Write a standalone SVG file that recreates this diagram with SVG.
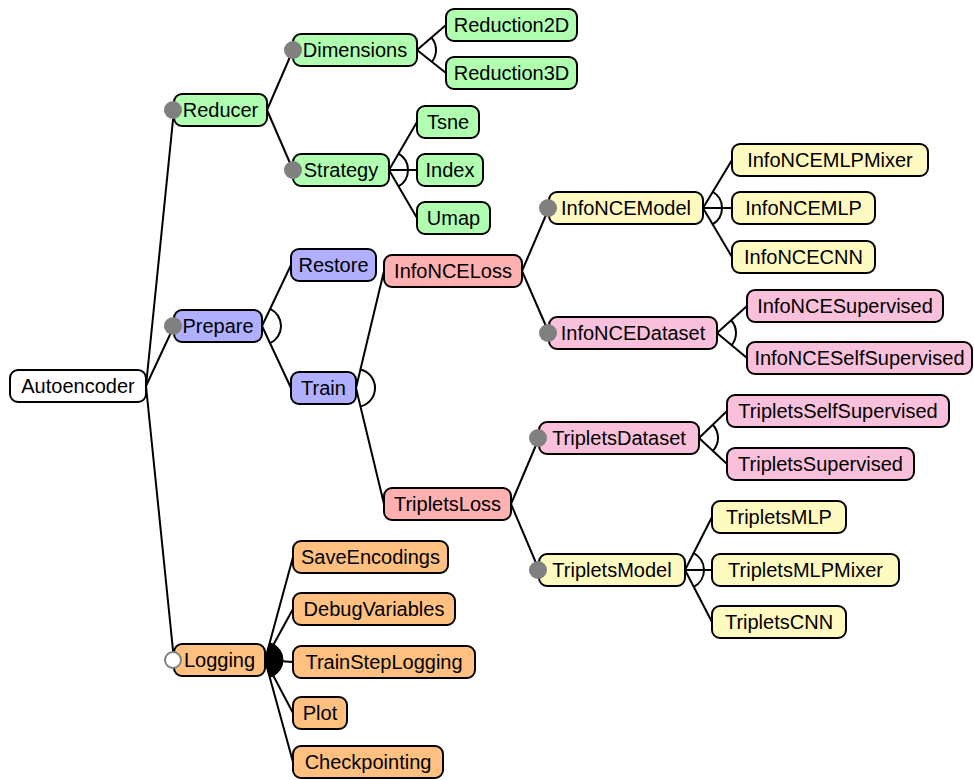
<svg xmlns="http://www.w3.org/2000/svg" width="974" height="780" viewBox="0 0 974 780">
<style>
.n rect{stroke:#000;stroke-width:2}
.n text{font-family:"Liberation Sans",Arial,sans-serif;font-size:20px;fill:#000;text-anchor:middle}
.w rect{fill:#fff}
.g rect{fill:#b0ffb0}
.b rect{fill:#b0b0ff}
.r rect{fill:#ffb0b0}
.y rect{fill:#fffac0}
.p rect{fill:#f8c0da}
.o rect{fill:#ffc080}
.m{fill:#808080}
.h{fill:#fff;stroke:#808080;stroke-width:2}
#connectors line{stroke:#000;stroke-width:2}
#connectors .arc{fill:none;stroke:#000;stroke-width:2}
#connectors .or{fill:#000;stroke:#000;stroke-width:1}
</style>
<rect width="974" height="780" fill="#fff"/>
<g id="connectors">
<line x1="146" y1="386" x2="174" y2="110"/>
<line x1="146" y1="386" x2="174" y2="326"/>
<line x1="146" y1="386" x2="174" y2="660"/>
<line x1="267" y1="110" x2="293" y2="50"/>
<line x1="267" y1="110" x2="293" y2="170"/>
<line x1="417" y1="50" x2="446" y2="25"/>
<line x1="417" y1="50" x2="446" y2="73"/>
<line x1="389" y1="170" x2="417" y2="122"/>
<line x1="389" y1="170" x2="417" y2="170"/>
<line x1="389" y1="170" x2="417" y2="218"/>
<line x1="262" y1="326" x2="291" y2="265"/>
<line x1="262" y1="326" x2="291" y2="388"/>
<line x1="356" y1="388" x2="384" y2="271"/>
<line x1="356" y1="388" x2="384" y2="504"/>
<line x1="522" y1="271" x2="549" y2="208"/>
<line x1="522" y1="271" x2="549" y2="333"/>
<line x1="703" y1="208" x2="732" y2="160"/>
<line x1="703" y1="208" x2="732" y2="208"/>
<line x1="703" y1="208" x2="732" y2="257"/>
<line x1="717" y1="333" x2="747" y2="306"/>
<line x1="717" y1="333" x2="747" y2="358"/>
<line x1="511" y1="504" x2="539" y2="438"/>
<line x1="511" y1="504" x2="539" y2="570"/>
<line x1="699" y1="438" x2="727" y2="411"/>
<line x1="699" y1="438" x2="727" y2="464"/>
<line x1="685" y1="570" x2="712" y2="517"/>
<line x1="685" y1="570" x2="712" y2="570"/>
<line x1="685" y1="570" x2="712" y2="622"/>
<line x1="265" y1="660" x2="293" y2="557"/>
<line x1="265" y1="660" x2="293" y2="609"/>
<line x1="265" y1="660" x2="293" y2="662"/>
<line x1="265" y1="660" x2="293" y2="713"/>
<line x1="265" y1="660" x2="293" y2="762"/>
<path class="arc" d="M270.16,308.83 A19,19 0 0 1 270.05,343.21"/>
<path class="arc" d="M360.42,369.52 A19,19 0 0 1 360.46,406.47"/>
<path class="arc" d="M431.39,37.59 A19,19 0 0 1 431.89,61.81"/>
<path class="arc" d="M398.57,153.59 A19,19 0 0 1 398.57,186.41"/>
<path class="arc" d="M712.83,191.74 A19,19 0 0 1 712.68,224.35"/>
<path class="arc" d="M731.12,320.29 A19,19 0 0 1 731.6,345.16"/>
<path class="arc" d="M712.68,424.81 A19,19 0 0 1 712.92,450.93"/>
<path class="arc" d="M693.62,553.07 A19,19 0 0 1 693.76,586.86"/>
<path class="or" d="M265,660 L269.72,642.63 A18,18 0 0 1 269.76,677.36 Z"/>
</g>
<g id="Autoencoder" class="n w"><rect x="10" y="370" width="136" height="32" rx="8"/><text x="78" y="393">Autoencoder</text></g>
<g id="Reducer" class="n g"><rect x="174" y="94" width="93" height="32" rx="8"/><text x="220.5" y="117">Reducer</text><circle class="m" cx="173" cy="110" r="9"/></g>
<g id="Prepare" class="n b"><rect x="174" y="310" width="88" height="32" rx="8"/><text x="218" y="333">Prepare</text><circle class="m" cx="173" cy="326" r="9"/></g>
<g id="Logging" class="n o"><rect x="174" y="644" width="91" height="32" rx="8"/><text x="219.5" y="667">Logging</text><circle class="h" cx="173" cy="660" r="8"/></g>
<g id="Dimensions" class="n g"><rect x="293" y="34" width="124" height="32" rx="8"/><text x="355" y="57">Dimensions</text><circle class="m" cx="293" cy="50" r="9"/></g>
<g id="Strategy" class="n g"><rect x="293" y="154" width="96" height="32" rx="8"/><text x="341" y="177">Strategy</text><circle class="m" cx="293" cy="170" r="9"/></g>
<g id="Reduction2D" class="n g"><rect x="446" y="9" width="131" height="32" rx="8"/><text x="511.5" y="32">Reduction2D</text></g>
<g id="Reduction3D" class="n g"><rect x="446" y="57" width="131" height="32" rx="8"/><text x="511.5" y="80">Reduction3D</text></g>
<g id="Tsne" class="n g"><rect x="417" y="106" width="62" height="32" rx="8"/><text x="448" y="129">Tsne</text></g>
<g id="Index" class="n g"><rect x="417" y="154" width="66" height="32" rx="8"/><text x="450" y="177">Index</text></g>
<g id="Umap" class="n g"><rect x="417" y="202" width="73" height="32" rx="8"/><text x="453.5" y="225">Umap</text></g>
<g id="Restore" class="n b"><rect x="291" y="249" width="85" height="32" rx="8"/><text x="333.5" y="272">Restore</text></g>
<g id="Train" class="n b"><rect x="291" y="372" width="65" height="32" rx="8"/><text x="323.5" y="395">Train</text></g>
<g id="InfoNCELoss" class="n r"><rect x="384" y="255" width="138" height="32" rx="8"/><text x="453" y="278">InfoNCELoss</text></g>
<g id="TripletsLoss" class="n r"><rect x="384" y="488" width="127" height="32" rx="8"/><text x="447.5" y="511">TripletsLoss</text></g>
<g id="InfoNCEModel" class="n y"><rect x="549" y="192" width="154" height="32" rx="8"/><text x="626" y="215">InfoNCEModel</text><circle class="m" cx="548" cy="208" r="9"/></g>
<g id="InfoNCEDataset" class="n p"><rect x="549" y="317" width="168" height="32" rx="8"/><text x="633" y="340">InfoNCEDataset</text><circle class="m" cx="548" cy="333" r="9"/></g>
<g id="InfoNCEMLPMixer" class="n y"><rect x="732" y="144" width="196" height="32" rx="8"/><text x="830" y="167">InfoNCEMLPMixer</text></g>
<g id="InfoNCEMLP" class="n y"><rect x="732" y="192" width="143" height="32" rx="8"/><text x="803.5" y="215">InfoNCEMLP</text></g>
<g id="InfoNCECNN" class="n y"><rect x="732" y="241" width="143" height="32" rx="8"/><text x="803.5" y="264">InfoNCECNN</text></g>
<g id="InfoNCESupervised" class="n p"><rect x="747" y="290" width="196" height="32" rx="8"/><text x="845" y="313">InfoNCESupervised</text></g>
<g id="InfoNCESelfSupervised" class="n p"><rect x="747" y="342" width="225" height="32" rx="8"/><text x="859.5" y="365">InfoNCESelfSupervised</text></g>
<g id="TripletsDataset" class="n p"><rect x="539" y="422" width="160" height="32" rx="8"/><text x="619" y="445">TripletsDataset</text><circle class="m" cx="538" cy="438" r="9"/></g>
<g id="TripletsModel" class="n y"><rect x="539" y="554" width="146" height="32" rx="8"/><text x="612" y="577">TripletsModel</text><circle class="m" cx="538" cy="570" r="9"/></g>
<g id="TripletsSelfSupervised" class="n p"><rect x="727" y="395" width="222" height="32" rx="8"/><text x="838" y="418">TripletsSelfSupervised</text></g>
<g id="TripletsSupervised" class="n p"><rect x="727" y="448" width="187" height="32" rx="8"/><text x="820.5" y="471">TripletsSupervised</text></g>
<g id="TripletsMLP" class="n y"><rect x="712" y="501" width="134" height="32" rx="8"/><text x="779" y="524">TripletsMLP</text></g>
<g id="TripletsMLPMixer" class="n y"><rect x="712" y="554" width="187" height="32" rx="8"/><text x="805.5" y="577">TripletsMLPMixer</text></g>
<g id="TripletsCNN" class="n y"><rect x="712" y="606" width="134" height="32" rx="8"/><text x="779" y="629">TripletsCNN</text></g>
<g id="SaveEncodings" class="n o"><rect x="293" y="541" width="155" height="32" rx="8"/><text x="370.5" y="564">SaveEncodings</text></g>
<g id="DebugVariables" class="n o"><rect x="293" y="593" width="162" height="32" rx="8"/><text x="374" y="616">DebugVariables</text></g>
<g id="TrainStepLogging" class="n o"><rect x="293" y="646" width="182" height="32" rx="8"/><text x="384" y="669">TrainStepLogging</text></g>
<g id="Plot" class="n o"><rect x="293" y="697" width="54" height="32" rx="8"/><text x="320" y="720">Plot</text></g>
<g id="Checkpointing" class="n o"><rect x="293" y="746" width="150" height="32" rx="8"/><text x="368" y="769">Checkpointing</text></g>
</svg>
